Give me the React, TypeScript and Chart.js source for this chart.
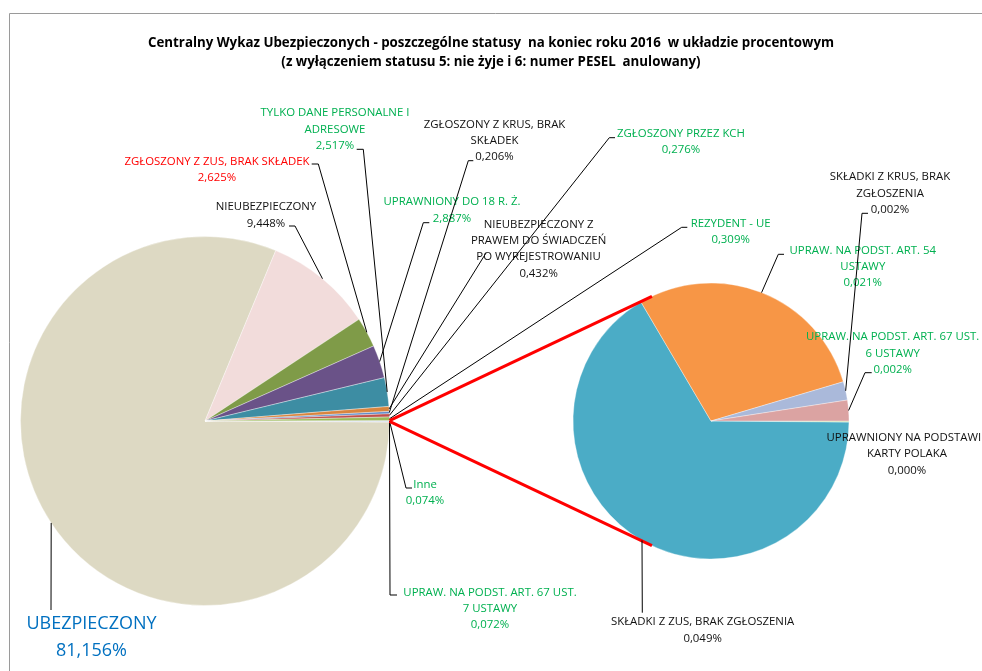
import React, { useEffect, useRef } from "react";
import { Chart, registerables } from "chart.js";

Chart.register(...registerables);

// ---------- DATA ----------
const titleLines = [
  "Centralny Wykaz Ubezpieczonych - poszczególne statusy  na koniec roku 2016  w układzie procentowym",
  "(z wyłączeniem statusu 5: nie żyje i 6: numer PESEL  anulowany)",
];

// main pie, clockwise starting at the "Inne" slice (centred at 3 o'clock)
const mainCategories = [
  "Inne",
  "UPRAW. NA PODST. ART. 67 UST.\n7 USTAWY",
  "UBEZPIECZONY",
  "NIEUBEZPIECZONY",
  "ZGŁOSZONY Z ZUS, BRAK SKŁADEK",
  "UPRAWNIONY DO 18 R. Ż.",
  "TYLKO DANE PERSONALNE I\nADRESOWE",
  "NIEUBEZPIECZONY Z\nPRAWEM DO ŚWIADCZEŃ\nPO WYREJESTROWANIU",
  "ZGŁOSZONY Z KRUS, BRAK\nSKŁADEK",
  "ZGŁOSZONY PRZEZ KCH",
  "REZYDENT - UE",
];
const mainValues = [0.074, 0.072, 81.156, 9.448, 2.625, 2.887, 2.517, 0.432, 0.206, 0.276, 0.309];

// secondary pie ("Inne" split), clockwise starting at 3 o'clock
const secondaryCategories = [
  "UPRAWNIONY NA PODSTAWIE\nKARTY POLAKA",
  "SKŁADKI Z ZUS, BRAK ZGŁOSZENIA",
  "UPRAW. NA PODST. ART. 54\nUSTAWY",
  "SKŁADKI Z KRUS, BRAK\nZGŁOSZENIA",
  "UPRAW. NA PODST. ART. 67 UST.\n6 USTAWY",
];
const secondaryValues = [0.0001, 0.0492, 0.0214, 0.0016, 0.0018];

// ---------- STYLES / LAYOUT ----------
const mainColors = [
  "#A99CC6", "#B9CDE5", "#DDD9C3", "#F2DCDB", "#7F9B48", "#6A5288",
  "#3D8DA3", "#D9853E", "#5F8BC8", "#C0504D", "#9BBB59",
];
const secondaryColors = ["#C3D69B", "#4BACC6", "#F79646", "#AAB9DA", "#DBA3A2"];

const GREEN = "#00B050";
const BLACK = "#111111";
const RED = "#FF0000";
const BLUE = "#0070C0";

type LabelLayout = {
  cx: number;
  y: number;
  lh: number;
  color: string;
  size?: number;
  path: number[][] | null;
};

const mainLabelLayout: LabelLayout[] = [
  { cx: 425, y: 485, lh: 16, color: GREEN, path: [[406, 488], [412, 488]] },
  { cx: 490, y: 592.3, lh: 16, color: GREEN, path: [[390, 595], [397, 595]] },
  { cx: 91.5, y: 624, lh: 27, color: BLUE, size: 18, path: [[51, 610]] },
  { cx: 266, y: 207, lh: 17, color: BLACK, path: [[295, 226], [289, 226]] },
  { cx: 217, y: 161.7, lh: 15.8, color: RED, path: [[318.3, 164], [311.7, 164]] },
  { cx: 452, y: 201.7, lh: 16.6, color: GREEN, path: [[423.3, 222.7], [429.3, 222.7]] },
  { cx: 335, y: 113, lh: 16.5, color: GREEN, path: [[363.3, 149.3], [356.7, 149.3]] },
  { cx: 538.6, y: 225, lh: 16.1, color: BLACK, path: [[486, 253]] },
  { cx: 494.5, y: 125, lh: 15.9, color: BLACK, path: [[468.3, 160.7], [473.3, 160.7]] },
  { cx: 681, y: 134, lh: 16, color: GREEN, path: [[609.3, 137.7], [615, 137.7]] },
  { cx: 730.6, y: 224, lh: 16, color: GREEN, path: [[681.7, 227.3], [687.3, 227.3]] },
];

const secondaryLabelLayout: LabelLayout[] = [
  { cx: 907, y: 437.3, lh: 16.7, color: BLACK, path: null },
  { cx: 702.6, y: 621.7, lh: 16.6, color: BLACK, path: [[642.3, 612.7]] },
  { cx: 862.8, y: 250.7, lh: 16, color: GREEN, path: [[778.3, 254.3], [784, 254.3]] },
  { cx: 890, y: 176.7, lh: 16.7, color: BLACK, path: [[862, 213.3], [868, 213.3]] },
  { cx: 892.7, y: 336.7, lh: 16.7, color: GREEN, path: [[865, 372.7], [871.7, 372.7]] },
];

const W = 982;
const H = 671;
const LABEL_FONT = '"Open Sans", sans-serif';

const fmt = (v: number) => v.toFixed(3).replace(".", ",") + "%";

function drawLabels(chart: any, categories: string[], values: number[], layouts: LabelLayout[]) {
  const ctx: CanvasRenderingContext2D = chart.ctx;
  const arcs: any[] = chart.getDatasetMeta(0).data;
  ctx.save();
  layouts.forEach((L, i) => {
    const arc = arcs[i];
    const mid = (arc.startAngle + arc.endAngle) / 2;
    const px = arc.x + Math.cos(mid) * arc.outerRadius;
    const py = arc.y + Math.sin(mid) * arc.outerRadius;
    if (L.path) {
      ctx.beginPath();
      ctx.moveTo(px, py);
      L.path.forEach(([x, y]) => ctx.lineTo(x, y));
      ctx.strokeStyle = "#000";
      ctx.lineWidth = 1;
      ctx.stroke();
    }
    const lines = [...categories[i].split("\n"), fmt(values[i])];
    ctx.font = `${L.size || 11.4}px ${LABEL_FONT}`;
    ctx.fillStyle = L.color;
    ctx.textAlign = "center";
    ctx.textBaseline = "middle";
    lines.forEach((t, k) => ctx.fillText(t, L.cx, L.y + k * L.lh));
  });
  ctx.restore();
}

const total = (a: number[]) => a.reduce((s, v) => s + v, 0);

export default function App() {
  const mainRef = useRef<HTMLCanvasElement>(null);
  const secRef = useRef<HTMLCanvasElement>(null);

  useEffect(() => {
    const halfInne = (mainValues[0] / total(mainValues)) * 360 / 2;

    const mainPlugin = {
      id: "mainDecor",
      afterDraw(chart: any) {
        const ctx: CanvasRenderingContext2D = chart.ctx;
        ctx.save();
        // frame
        ctx.strokeStyle = "#9A9A9A";
        ctx.lineWidth = 1;
        ctx.beginPath();
        ctx.moveTo(9.5, H);
        ctx.lineTo(9.5, 13.5);
        ctx.lineTo(W, 13.5);
        ctx.stroke();
        // title
        ctx.fillStyle = "#000";
        ctx.font = 'bold 14px "Liberation Sans Narrow", "Open Sans", sans-serif';
        ctx.textAlign = "center";
        ctx.textBaseline = "middle";
        const w1 = ctx.measureText(titleLines[0]).width;
        const sx = 686 / w1;
        ctx.translate(491, 0);
        ctx.scale(sx, 1);
        ctx.fillText(titleLines[0], 0, 43);
        ctx.fillText(titleLines[1], 0, 62);
        ctx.restore();
        drawLabels(chart, mainCategories, mainValues, mainLabelLayout);
      },
    };

    const main = new Chart(mainRef.current as HTMLCanvasElement, {
      type: "pie",
      data: {
        labels: mainCategories,
        datasets: [
          {
            data: mainValues,
            backgroundColor: mainColors,
            borderColor: "rgba(255,255,255,0.7)",
            borderWidth: 0.5,
          },
        ],
      },
      options: {
        responsive: false,
        animation: false,
        events: [],
        devicePixelRatio: 1,
        rotation: 90 - halfInne,
        radius: 184.5,
        layout: { padding: { left: 20.5, right: W - 389.5, top: 236.5, bottom: H - 605.5 } },
        plugins: { legend: { display: false }, tooltip: { enabled: false }, title: { display: false } },
      } as any,
      plugins: [mainPlugin],
    });

    const secPlugin = {
      id: "secDecor",
      afterDraw(chart: any) {
        const ctx: CanvasRenderingContext2D = chart.ctx;
        // connectors from the "Inne" slice of the main pie to the secondary pie
        const inne: any = main.getDatasetMeta(0).data[0];
        const sArc: any = chart.getDatasetMeta(0).data[0];
        const cx = sArc.x, cy = sArc.y, R = sArc.outerRadius;
        const ends = [
          { a: inne.startAngle, sign: 1 },
          { a: inne.endAngle, sign: -1 },
        ];
        ctx.save();
        ctx.strokeStyle = RED;
        ctx.lineWidth = 3;
        ends.forEach(({ a, sign }) => {
          const px = inne.x + Math.cos(a) * inne.outerRadius;
          const py = inne.y + Math.sin(a) * inne.outerRadius;
          const d = Math.hypot(px - cx, py - cy);
          const thp = Math.atan2(py - cy, px - cx);
          const al = Math.acos(R / d);
          const th = thp + sign * al;
          ctx.beginPath();
          ctx.moveTo(px, py);
          ctx.lineTo(cx + Math.cos(th) * R, cy + Math.sin(th) * R);
          ctx.stroke();
        });
        ctx.restore();
        drawLabels(chart, secondaryCategories, secondaryValues, secondaryLabelLayout);
      },
    };

    const sec = new Chart(secRef.current as HTMLCanvasElement, {
      type: "pie",
      data: {
        labels: secondaryCategories,
        datasets: [
          {
            data: secondaryValues,
            backgroundColor: secondaryColors,
            borderColor: "rgba(255,255,255,0.7)",
            borderWidth: 0.5,
          },
        ],
      },
      options: {
        responsive: false,
        animation: false,
        events: [],
        devicePixelRatio: 1,
        rotation: 90,
        radius: 138,
        layout: { padding: { left: 573, right: W - 849, top: 283, bottom: H - 559 } },
        plugins: { legend: { display: false }, tooltip: { enabled: false }, title: { display: false } },
      } as any,
      plugins: [secPlugin],
    });

    return () => {
      sec.destroy();
      main.destroy();
    };
  }, []);

  return (
    <div>
      <canvas
        ref={mainRef}
        width={W}
        height={H}
        style={{ position: "fixed", left: 0, top: 0, width: W, height: H }}
      />
      <canvas
        ref={secRef}
        width={W}
        height={H}
        style={{ position: "fixed", left: 0, top: 0, width: W, height: H }}
      />
    </div>
  );
}
